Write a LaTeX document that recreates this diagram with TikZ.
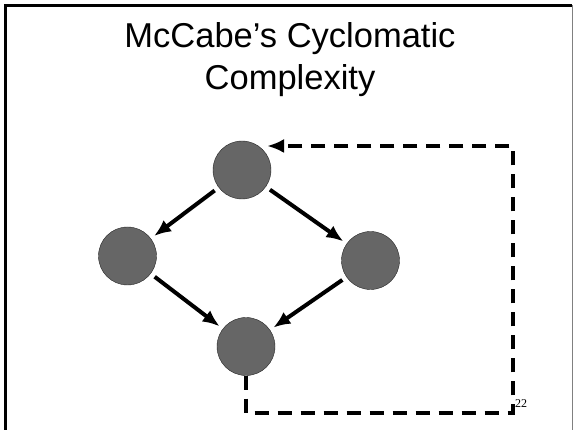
\documentclass[tikz,border=0pt]{standalone}
\usepackage{fontspec}
\setmainfont{Liberation Serif}
\newfontfamily\titlefont{Liberation Sans}
\usetikzlibrary{arrows.meta}
\definecolor{nodegray}{HTML}{666666}
\tikzset{
	vertex/.style   = {draw=black!85, thin, circle, fill=nodegray,
		minimum size=58pt, inner sep=0pt},
	flow/.style     = {->, line width=4pt, shorten <=5pt, shorten >=4pt},
	back/.style     = {->, line width=4pt, dash pattern=on 14pt off 9pt},
	corner/.style   = {coordinate} % bend of the back edge
}

\begin{document}
\begin{tikzpicture}[x=1pt, y=-1pt, >={Latex[length=17pt,width=14pt]}]
	\useasboundingbox (0,0) rectangle (574,430);
	\draw[line width=3pt] (5.5,430) -- (5.5,5.5) -- (572,5.5);
	\draw[gray, line width=1pt] (572,5.5) -- (572,430);

	\draw
	node at (290,48) [anchor=base] (t1) {\titlefont\fontsize{34.5}{40}\selectfont McCabe’s Cyclomatic}
	node at (290,90) [anchor=base] (t2) {\titlefont\fontsize{34.5}{40}\selectfont Complexity}
	node at (242,170) [vertex] (top) {}
	node at (127.5,256) [vertex] (left) {}
	node at (370.5,260.5) [vertex] (right) {}
	node at (246,346.5) [vertex] (bot) {}
	node at (515,408) [anchor=base west, inner sep=0pt] (pg) {\fontsize{12}{13}\selectfont 22};

	\node[corner] (c1) at (246,413) {};
	\node[corner] (c2) at (513,413) {};
	\node[corner] (c3) at (513,146) {};
	\node[corner] (c4) at (267,146) {};

	\draw[flow](top)--(left);
	\draw[flow](top)--(right);
	\draw[flow](left)--(bot);
	\draw[flow](right)--(bot);
	\draw[back](bot.south)--(c1)--(c2)--(c3)--(c4);
\end{tikzpicture}
\end{document}
